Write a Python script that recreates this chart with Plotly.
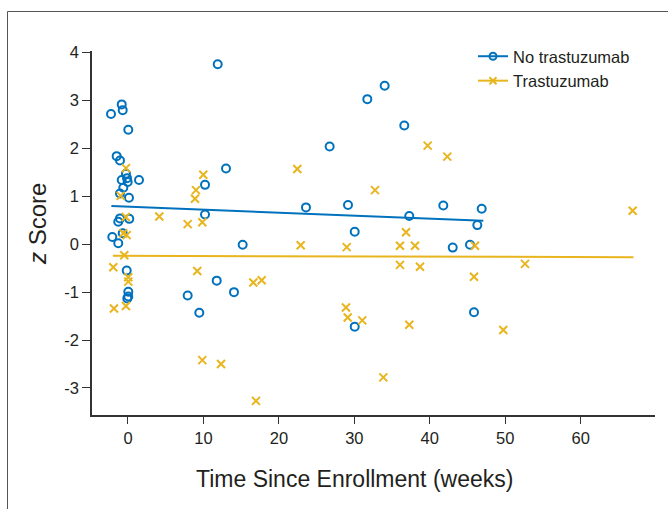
import plotly.graph_objects as go

# No trastuzumab (blue circles)
no_tz_x = [-2.25, -0.83, -0.70, 0.04, -1.50, -1.06, -0.27, -0.13, -0.83, 1.46, -0.04, -0.62,
           -1.06, 0.13, -1.06, -1.29, 0.17, -0.70, -2.08, -1.29, -0.17, 0.04, 0.04, -0.09,
           11.89, 12.99, 10.21, 10.21, 15.20, 11.76, 7.91, 14.05, 9.45,
           34.02, 31.72, 26.73, 23.59, 29.16, 30.05, 30.05,
           36.62, 41.79, 46.88, 37.28, 46.30, 43.04, 45.33, 45.86]
no_tz_y = [2.72, 2.92, 2.80, 2.39, 1.84, 1.75, 1.47, 1.38, 1.34, 1.34, 1.30, 1.18,
           1.06, 0.97, 0.54, 0.47, 0.53, 0.23, 0.15, 0.02, -0.55, -0.99, -1.09, -1.13,
           3.76, 1.58, 1.24, 0.62, -0.01, -0.76, -1.07, -1.00, -1.43,
           3.31, 3.03, 2.04, 0.77, 0.82, 0.26, -1.72,
           2.48, 0.81, 0.74, 0.59, 0.40, -0.07, -0.01, -1.42]

# Trastuzumab (yellow crosses)
tz_x = [-0.27, -0.97, -0.30, 4.15, -0.62, -0.17, -0.49, -1.95, 0.04, 0.04, -1.86, -0.27,
        9.98, 9.01, 8.88, 7.91, 9.85, 9.18, 16.61, 17.72, 9.85, 12.33, 16.96,
        22.44, 32.74, 22.89, 28.99, 28.89, 29.12, 31.05, 33.84,
        39.72, 42.32, 36.85, 36.05, 38.04, 45.99, 36.05, 38.70, 52.62, 45.86, 37.28, 49.74, 66.89]
tz_y = [1.59, 1.01, 0.57, 0.58, 0.23, 0.19, -0.23, -0.48, -0.69, -0.78, -1.34, -1.29,
        1.45, 1.13, 0.95, 0.42, 0.46, -0.56, -0.80, -0.75, -2.42, -2.50, -3.27,
        1.57, 1.13, -0.02, -0.06, -1.32, -1.53, -1.59, -2.78,
        2.06, 1.83, 0.25, -0.03, -0.03, -0.03, -0.43, -0.47, -0.41, -0.68, -1.68, -1.79, 0.70]

# Fitted trend lines (endpoints)
no_tz_fit_x = [-2.2, 47.1]
no_tz_fit_y = [0.80, 0.49]
tz_fit_x = [-2.0, 67.0]
tz_fit_y = [-0.24, -0.27]

x_ticks = [0, 10, 20, 30, 40, 50, 60]
y_ticks = [-3, -2, -1, 0, 1, 2, 3, 4]

BLUE = "#0072BD"
YELLOW = "#E8B51E"
TXT = "#231F20"
FONT = "Liberation Sans, Arial, sans-serif"

fig = go.Figure()

fig.add_trace(go.Scatter(x=no_tz_x, y=no_tz_y, mode="markers", showlegend=False,
                         marker=dict(symbol="circle-open", size=8, color=BLUE,
                                     line=dict(width=2, color=BLUE))))
fig.add_trace(go.Scatter(x=tz_x, y=tz_y, mode="markers", showlegend=False,
                         marker=dict(symbol="x-thin-open", size=8, color=YELLOW,
                                     line=dict(width=2, color=YELLOW))))
fig.add_trace(go.Scatter(x=no_tz_fit_x, y=no_tz_fit_y, mode="lines", showlegend=False,
                         line=dict(color=BLUE, width=2)))
fig.add_trace(go.Scatter(x=tz_fit_x, y=tz_fit_y, mode="lines", showlegend=False,
                         line=dict(color=YELLOW, width=2)))

# legend entries
fig.add_trace(go.Scatter(x=[None], y=[None], mode="lines+markers", name="No trastuzumab",
                         line=dict(color=BLUE, width=2),
                         marker=dict(symbol="circle-open", size=7, color=BLUE,
                                     line=dict(width=2, color=BLUE))))
fig.add_trace(go.Scatter(x=[None], y=[None], mode="lines+markers", name="Trastuzumab",
                         line=dict(color=YELLOW, width=2),
                         marker=dict(symbol="x-thin-open", size=7, color=YELLOW,
                                     line=dict(width=2, color=YELLOW))))

L, R, T, B = 92, 13, 51, 94
W, H = 668, 509
pw, ph = W - L - R, H - T - B

def px(xp):
    return (xp - L) / pw

def py(yp):
    return (H - B - yp) / ph

fig.update_layout(
    width=W, height=H,
    margin=dict(l=L, r=R, t=T, b=B),
    paper_bgcolor="white", plot_bgcolor="white",
    font=dict(family=FONT, color=TXT, size=16),
    legend=dict(x=px(473), y=py(39), xanchor="left", yanchor="top",
                bgcolor="rgba(0,0,0,0)", font=dict(size=16.5, color=TXT),
                tracegroupgap=0, itemwidth=30),
    xaxis=dict(range=[-4.77, 69.85], tickvals=x_ticks, ticktext=[str(v) for v in x_ticks],
               showgrid=False, zeroline=False, showline=True, linecolor="#333333",
               linewidth=1.5, ticks="outside", ticklen=7, tickwidth=1.2, tickcolor="#333333",
               tickfont=dict(size=16.5)),
    yaxis=dict(range=[-3.565, 4.035], tickvals=y_ticks, ticktext=[str(v) for v in y_ticks],
               showgrid=False, zeroline=False, showline=True, linecolor="#333333",
               linewidth=1.5, ticks="outside", ticklen=8, tickwidth=1.2, tickcolor="#333333",
               tickfont=dict(size=16.5)),
    annotations=[
        dict(text="Time Since Enrollment (weeks)", x=px(354), y=py(479), xref="paper", yref="paper",
             xanchor="center", yanchor="middle", showarrow=False, font=dict(size=23, color=TXT)),
        dict(text="<i>z</i> Score", x=px(37), y=py(224), xref="paper", yref="paper",
             xanchor="center", yanchor="middle", textangle=-90, showarrow=False,
             font=dict(size=24, color=TXT)),
    ],
    shapes=[
        dict(type="rect", xref="paper", yref="paper", x0=px(7.5), x1=px(700), y0=py(560), y1=py(11.5),
             line=dict(color="#555555", width=1), fillcolor="rgba(0,0,0,0)", layer="below"),
    ],
)

fig.write_html("out.html")
